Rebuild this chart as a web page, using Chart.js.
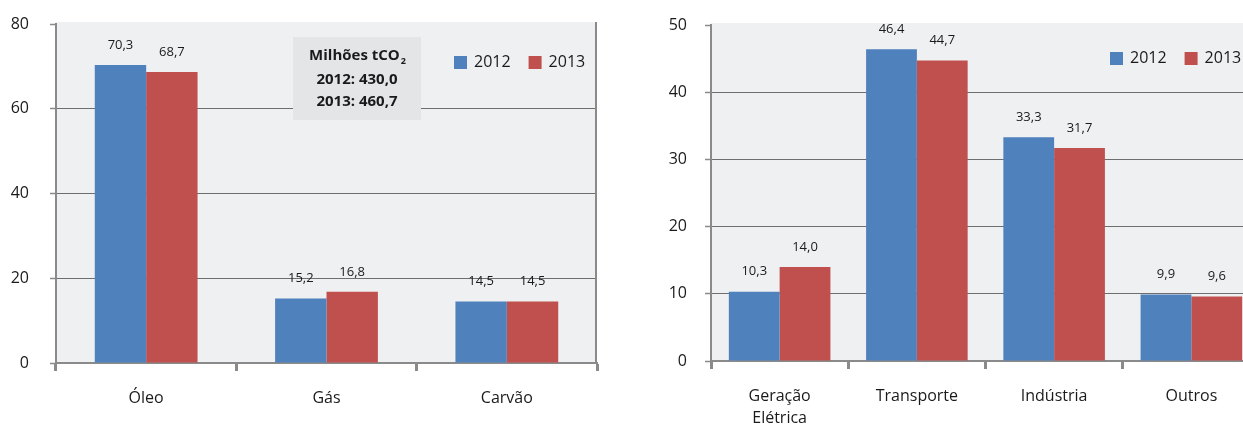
<!DOCTYPE html>
<html lang="pt">
<head>
<meta charset="utf-8">
<script src="https://cdn.jsdelivr.net/npm/chart.js@4"></script>
<style>
  html, body { margin: 0; padding: 0; background: #fff; overflow: hidden; }
  #wrap { position: relative; width: 1243px; height: 425px; overflow: hidden; }
  canvas { position: absolute; top: 0; }
  #fonte { left: 0; }
  #setor { left: 640px; }
</style>
</head>
<body>
<div id="wrap">
  <canvas id="fonte" width="640" height="425"></canvas>
  <canvas id="setor" width="625" height="425"></canvas>
</div>
<script>
// emissões por fonte e por setor, milhões tCO2
const years = ["2012", "2013"];

const fuelLabels = ["Óleo", "Gás", "Carvão"];
const fuel2012 = [70.3, 15.2, 14.5];
const fuel2013 = [68.7, 16.8, 14.5];
const fuelTicks = { max: 80, step: 20 };

const sectorLabels = [["Geração", "Elétrica"], "Transporte", "Indústria", "Outros"];
const sector2012 = [10.3, 46.4, 33.3, 9.9];
const sector2013 = [14.0, 44.7, 31.7, 9.6];
const sectorTicks = { max: 50, step: 10 };

const totalTitle = "Milhões tCO";
const totalLines = ["2012: 430,0", "2013: 460,7"];

const BLUE = "#4f81bd";
const RED = "#c0504d";
const TEXT = "#1a1a1a";
const AXIS = "#8a8a8a";
const FONT = "'Open Sans', 'Noto Sans', sans-serif";

const fmt = v => v.toFixed(1).replace(".", ",");

// light gray panel behind the bars
const plotBg = {
  id: "plotBg",
  beforeDraw(chart) {
    const a = chart.chartArea, ctx = chart.ctx;
    ctx.save();
    ctx.fillStyle = "#eff0f2";
    ctx.fillRect(a.left, a.top - 2, a.right - a.left, a.bottom - a.top + 2);
    ctx.restore();
  }
};

// value above each bar, decimal comma
const valueLabels = {
  id: "valueLabels",
  afterDatasetsDraw(chart) {
    const ctx = chart.ctx;
    ctx.save();
    ctx.font = "13px " + FONT;
    ctx.fillStyle = TEXT;
    ctx.textAlign = "center";
    ctx.textBaseline = "middle";
    chart.data.datasets.forEach((ds, i) => {
      chart.getDatasetMeta(i).data.forEach((bar, j) => {
        ctx.fillText(fmt(ds.data[j]), bar.x, bar.y - 20);
      });
    });
    ctx.restore();
  }
};

// legend and extras, positions come from options.plugins.extras
const extras = {
  id: "extras",
  afterDraw(chart, args, opts) {
    const ctx = chart.ctx;
    const a = chart.chartArea;
    ctx.save();

    if (opts.rightBorder) {
      ctx.strokeStyle = AXIS;
      ctx.lineWidth = 2;
      ctx.beginPath();
      ctx.moveTo(a.right - 1, a.top - 2);
      ctx.lineTo(a.right - 1, a.bottom);
      ctx.stroke();
    }

    if (opts.box) {
      const b = opts.box;
      ctx.fillStyle = "#e4e5e7";
      ctx.fillRect(b.x, b.y, b.w, b.h);
      ctx.fillStyle = TEXT;
      ctx.textBaseline = "middle";
      const cx = b.x + b.w / 2;
      ctx.font = "bold 15px " + FONT;
      const wMain = ctx.measureText(totalTitle).width;
      ctx.font = "bold 9px " + FONT;
      const wSub = ctx.measureText("2").width;
      const x0 = cx - (wMain + wSub) / 2;
      ctx.textAlign = "left";
      ctx.font = "bold 15px " + FONT;
      ctx.fillText(totalTitle, x0, b.y + 19);
      ctx.font = "bold 9px " + FONT;
      ctx.fillText("2", x0 + wMain + 1, b.y + 24);
      ctx.font = "bold 15px " + FONT;
      ctx.textAlign = "center";
      totalLines.forEach((t, i) => ctx.fillText(t, cx, b.y + 43 + i * 22));
    }

    if (opts.legend) {
      let x = opts.legend.x;
      const y = opts.legend.y;
      ctx.font = "16px " + FONT;
      ctx.textAlign = "left";
      ctx.textBaseline = "middle";
      chart.data.datasets.forEach(ds => {
        ctx.fillStyle = ds.backgroundColor;
        ctx.fillRect(x, y - 6.5, 13, 13);
        ctx.fillStyle = TEXT;
        ctx.fillText(ds.label, x + 20, y);
        x += 20 + ctx.measureText(ds.label).width + 18;
      });
    }
    ctx.restore();
  }
};

function barChart(id, labels, s2012, s2013, ticks, cfg) {
  return new Chart(document.getElementById(id), {
    type: "bar",
    data: {
      labels: labels,
      datasets: [
        { label: years[0], data: s2012, backgroundColor: BLUE },
        { label: years[1], data: s2013, backgroundColor: RED }
      ]
    },
    options: {
      responsive: false,
      animation: false,
      devicePixelRatio: 1,
      layout: { padding: { top: cfg.top, right: cfg.right, left: 0, bottom: 0 } },
      datasets: { bar: { categoryPercentage: cfg.catPct, barPercentage: 1, borderWidth: 0 } },
      scales: {
        x: {
          afterFit: s => { s.height = cfg.xHeight; },
          border: { color: AXIS, width: 2 },
          grid: { offset: true, drawOnChartArea: false, tickLength: 8, tickWidth: 3, tickColor: AXIS, color: AXIS },
          ticks: { color: TEXT, padding: 16, maxRotation: 0, autoSkip: false,
                   font: { family: FONT, size: 16, lineHeight: 1.4 } }
        },
        y: {
          min: 0,
          max: ticks.max,
          // fixed axis width; drop the label padding so the plot top sits where set
          afterFit: s => { s.width = cfg.yWidth; s.paddingTop = 0; s.paddingBottom = 0; },
          border: { color: AXIS, width: 2 },
          grid: {
            tickLength: 6,
            tickWidth: 1.5,
            tickColor: AXIS,
            lineWidth: 1,
            color: c => (c.tick && c.tick.value === ticks.max) ? "rgba(0,0,0,0)" : "#6e6e6e"
          },
          ticks: { stepSize: ticks.step, color: TEXT, padding: cfg.yPad,
                   font: { family: FONT, size: 16 } }
        }
      },
      plugins: {
        legend: { display: false },
        tooltip: { enabled: false },
        extras: cfg.extras
      }
    },
    plugins: [plotBg, valueLabels, extras]
  });
}

barChart("fonte", fuelLabels, fuel2012, fuel2013, fuelTicks, {
  top: 24, right: 43, xHeight: 62, yWidth: 56, yPad: 21, catPct: 0.57,
  extras: {
    rightBorder: true,
    box: { x: 293, y: 37, w: 128, h: 83 },
    legend: { x: 454, y: 62.5 }
  }
});

barChart("setor", sectorLabels, sector2012, sector2013, sectorTicks, {
  top: 25, right: 5, xHeight: 64, yWidth: 71, yPad: 18, catPct: 0.74,
  extras: {
    legend: { x: 470, y: 58.5 }
  }
});
</script>
</body>
</html>
